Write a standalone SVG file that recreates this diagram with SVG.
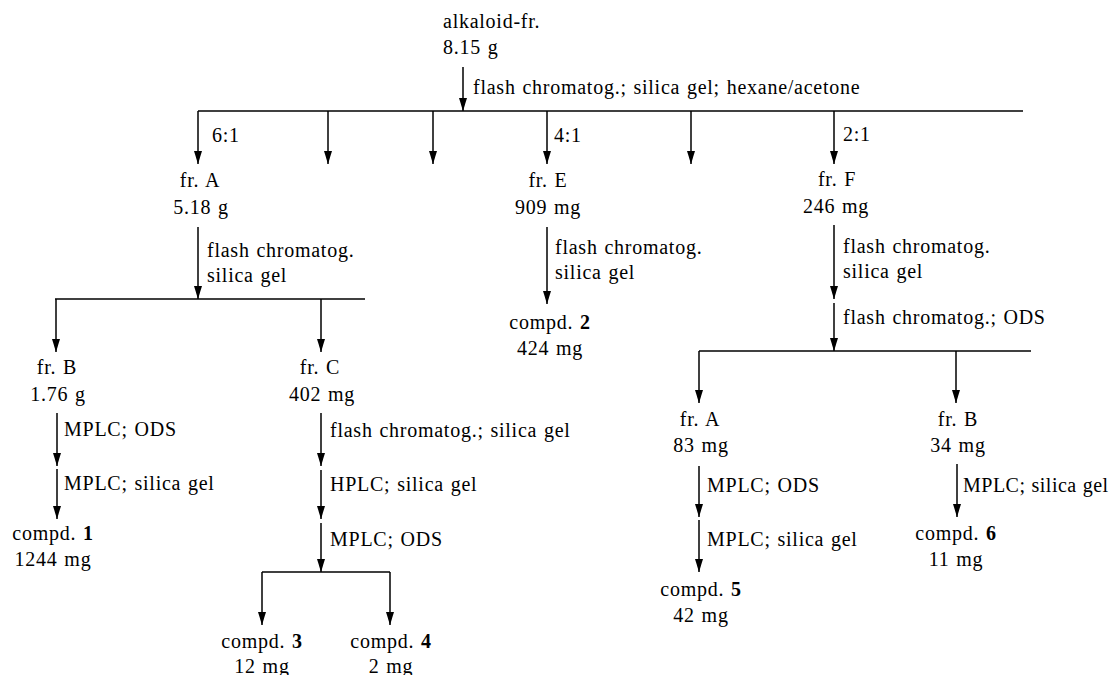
<svg xmlns="http://www.w3.org/2000/svg" width="1112" height="675" viewBox="0 0 1112 675">
<style>
text{font-family:"Liberation Serif","Times New Roman",serif;font-size:20px;letter-spacing:0.75px;word-spacing:1px;fill:#000}
.c{text-anchor:middle}
.b{font-weight:bold}
.ln{stroke:#000;stroke-width:1.5;fill:none}
.ar{stroke:#000;stroke-width:1.5;fill:none;marker-end:url(#ah)}
</style>
<defs>
<marker id="ah" viewBox="0 0 13 8" refX="13" refY="4" markerWidth="13" markerHeight="8" markerUnits="userSpaceOnUse" orient="auto">
<path d="M0,0 L13,4 L0,8 z" fill="#000"/>
</marker>
</defs>
<rect width="1112" height="675" fill="#fff"/>
<g id="connectors">
<line class="ar" x1="463" y1="67" x2="463" y2="111"/>
<line class="ln" x1="198" y1="111" x2="1023" y2="111"/>
<line class="ar" x1="198" y1="111" x2="198" y2="164"/>
<line class="ar" x1="328" y1="111" x2="328" y2="164"/>
<line class="ar" x1="433" y1="111" x2="433" y2="164"/>
<line class="ar" x1="547" y1="111" x2="547" y2="164"/>
<line class="ar" x1="691" y1="111" x2="691" y2="164"/>
<line class="ar" x1="834" y1="111" x2="834" y2="164"/>
<line class="ar" x1="198" y1="227" x2="198" y2="299"/>
<line class="ln" x1="55" y1="299" x2="365" y2="299"/>
<line class="ar" x1="56" y1="299" x2="56" y2="352"/>
<line class="ar" x1="321" y1="299" x2="321" y2="352"/>
<line class="ar" x1="547" y1="227" x2="547" y2="304"/>
<line class="ar" x1="834" y1="225" x2="834" y2="299"/>
<line class="ar" x1="834" y1="303" x2="834" y2="351"/>
<line class="ln" x1="699" y1="351" x2="1031" y2="351"/>
<line class="ar" x1="699" y1="351" x2="699" y2="403"/>
<line class="ar" x1="956" y1="351" x2="956" y2="403"/>
<line class="ar" x1="57" y1="413" x2="57" y2="466"/>
<line class="ar" x1="57" y1="469" x2="57" y2="519"/>
<line class="ar" x1="321" y1="413" x2="321" y2="466"/>
<line class="ar" x1="321" y1="470" x2="321" y2="519"/>
<line class="ar" x1="321" y1="523" x2="321" y2="572"/>
<line class="ln" x1="262" y1="572" x2="390" y2="572"/>
<line class="ar" x1="262" y1="572" x2="262" y2="625"/>
<line class="ar" x1="390" y1="572" x2="390" y2="625"/>
<line class="ar" x1="699" y1="466" x2="699" y2="517"/>
<line class="ar" x1="699" y1="520" x2="699" y2="572"/>
<line class="ar" x1="957" y1="464" x2="957" y2="517"/>
</g>
<g id="labels">
<text x="473" y="94">flash chromatog.; silica gel; hexane/acetone</text>
<text x="212" y="142">6:1</text>
<text x="554" y="142">4:1</text>
<text x="843" y="141">2:1</text>
<text x="207" y="257">flash chromatog.</text>
<text x="207" y="282">silica gel</text>
<text x="555" y="254">flash chromatog.</text>
<text x="555" y="279">silica gel</text>
<text x="843" y="253">flash chromatog.</text>
<text x="843" y="278">silica gel</text>
<text x="843" y="324">flash chromatog.; ODS</text>
<text x="64" y="436">MPLC; ODS</text>
<text x="64" y="490">MPLC; silica gel</text>
<text x="330" y="437">flash chromatog.; silica gel</text>
<text x="330" y="491">HPLC; silica gel</text>
<text x="330" y="546">MPLC; ODS</text>
<text x="707" y="492">MPLC; ODS</text>
<text x="707" y="546">MPLC; silica gel</text>
<text x="963" y="492" style="letter-spacing:0.5px;word-spacing:0.5px">MPLC; silica gel</text>
</g>
<g id="n-alkaloid"><text x="443" y="28">alkaloid-fr.</text><text x="443" y="54">8.15 g</text></g>
<g id="n-frA"><text class="c" x="200" y="187">fr. A</text><text class="c" x="201" y="214">5.18 g</text></g>
<g id="n-frE"><text class="c" x="548" y="187">fr. E</text><text class="c" x="548" y="214">909 mg</text></g>
<g id="n-frF"><text class="c" x="837" y="186">fr. F</text><text class="c" x="836" y="213">246 mg</text></g>
<g id="n-frB"><text class="c" x="57" y="374">fr. B</text><text class="c" x="58" y="401">1.76 g</text></g>
<g id="n-frC"><text class="c" x="320" y="374">fr. C</text><text class="c" x="322" y="401">402 mg</text></g>
<g id="n-c2"><text class="c" x="550" y="329">compd. <tspan class="b">2</tspan></text><text class="c" x="550" y="355">424 mg</text></g>
<g id="n-frA2"><text class="c" x="700" y="426">fr. A</text><text class="c" x="701" y="452">83 mg</text></g>
<g id="n-frB2"><text class="c" x="958" y="426">fr. B</text><text class="c" x="958" y="452">34 mg</text></g>
<g id="n-c1"><text class="c" x="53" y="540">compd. <tspan class="b">1</tspan></text><text class="c" x="53" y="566">1244 mg</text></g>
<g id="n-c3"><text class="c" x="262" y="648">compd. <tspan class="b">3</tspan></text><text class="c" x="262" y="673">12 mg</text></g>
<g id="n-c4"><text class="c" x="391" y="648">compd. <tspan class="b">4</tspan></text><text class="c" x="391" y="673">2 mg</text></g>
<g id="n-c5"><text class="c" x="701" y="596">compd. <tspan class="b">5</tspan></text><text class="c" x="701" y="622">42 mg</text></g>
<g id="n-c6"><text class="c" x="956" y="540">compd. <tspan class="b">6</tspan></text><text class="c" x="956" y="566">11 mg</text></g>
</svg>
